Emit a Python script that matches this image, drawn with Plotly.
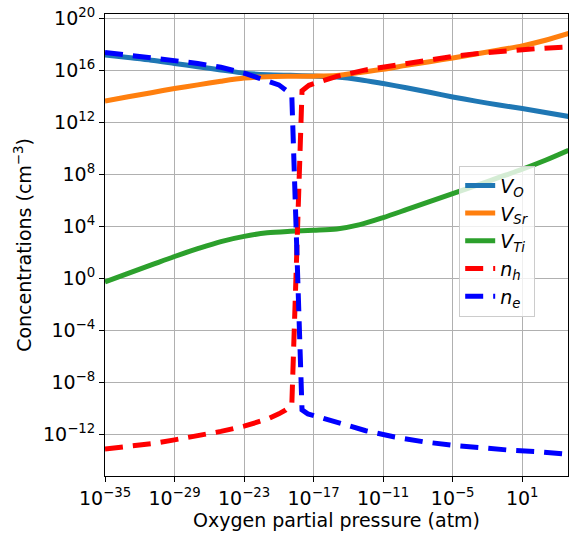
import numpy as np
import plotly.graph_objects as go

# log10 of oxygen partial pressure (atm) for the defect curves
log_p = [-35, -33, -31, -29, -27, -25, -23, -21, -19, -17, -15,
         -13, -11, -9, -7, -5, -3, -1, 1, 3, 5]

# log10 concentrations (cm^-3)
log_vo = [17.2, 17.0, 16.8, 16.55, 16.3, 16.05, 15.8, 15.68, 15.63, 15.58, 15.5,
          15.3, 15.0, 14.68, 14.33, 13.97, 13.65, 13.35, 13.08, 12.78, 12.47]
log_vsr = [13.66, 13.98, 14.3, 14.62, 14.9, 15.18, 15.42, 15.53, 15.56, 15.57, 15.62,
           15.85, 16.1, 16.4, 16.68, 16.97, 17.27, 17.58, 17.9, 18.33, 18.85]
log_vti = [-0.26, 0.4, 1.05, 1.7, 2.3, 2.85, 3.25, 3.52, 3.64, 3.72, 3.82,
           4.15, 4.69, 5.3, 5.92, 6.54, 7.15, 7.78, 8.41, 9.1, 9.87]

# holes
log_p_h = [-35, -33, -31, -29, -27, -25, -23, -21, -20, -19.4, -18.88,
           -18.0, -17.4, -16.4, -15, -12.5, -10, -7.5, -5, -2.5, 0, 2.5, 5]
log_nh = [-13.1, -12.9, -12.7, -12.4, -12.1, -11.75, -11.35, -10.8, -10.4, -10.1, -9.7,
          14.45, 14.87, 15.15, 15.55, 16.05, 16.42, 16.8, 17.08, 17.35, 17.55, 17.7, 17.82]

# electrons
log_p_e = [-35, -33, -31, -29, -27, -25, -23, -21, -20, -19.4, -18.88,
           -18.0, -17.5, -16.5, -14.5, -12.5, -10, -7.5, -5, -2.5, 0, 2.5, 5]
log_ne = [17.4, 17.2, 17.0, 16.8, 16.55, 16.25, 15.8, 15.2, 14.9, 14.5, 14.05,
          -10.1, -10.4, -10.65, -11.15, -11.7, -12.18, -12.55, -12.82, -13.05, -13.2, -13.32, -13.52]

x_tick_exp = [-35, -29, -23, -17, -11, -5, 1]
y_tick_exp = [20, 16, 12, 8, 4, 0, -4, -8, -12]


def pw(v):
    return np.power(10.0, np.array(v, dtype=float))


def exp_label(e):
    return "10<sup>" + str(e).replace("-", "\u2212") + "</sup>"


font = "DejaVu Sans, sans-serif"
fig = go.Figure()

series = [
    (log_p, log_vo, "<i>V</i><sub><i>O</i></sub>", "#1f77b4", "solid"),
    (log_p, log_vsr, "<i>V</i><sub><i>Sr</i></sub>", "#ff7f0e", "solid"),
    (log_p, log_vti, "<i>V</i><sub><i>Ti</i></sub>", "#2ca02c", "solid"),
    (log_p_h, log_nh, "<i>n</i><sub><i>h</i></sub>", "red", "18px,10px"),
    (log_p_e, log_ne, "<i>n</i><sub><i>e</i></sub>", "blue", "18px,10px"),
]
for xs, ys, name, color, dash in series:
    fig.add_trace(go.Scatter(
        x=pw(xs), y=pw(ys), mode="lines", name=name,
        line=dict(color=color, width=5, dash=dash,
                  shape="spline" if dash == "solid" else "linear", smoothing=0.8),
    ))

axis_common = dict(
    type="log", showline=True, linecolor="black", linewidth=1, mirror=True,
    ticks="outside", ticklen=5, tickcolor="black", automargin=False,
    ticklabeloverflow="allow",
    showgrid=True, gridcolor="#b0b0b0", gridwidth=1, zeroline=False,
    tickfont=dict(family=font, size=19, color="black"),
)

fig.update_layout(
    width=578, height=541, autosize=False,
    margin=dict(l=105, r=10, t=14, b=65),
    paper_bgcolor="white", plot_bgcolor="white",
    font=dict(family=font, size=19, color="black"),
    xaxis=dict(axis_common, range=[-35, 4.95],
               tickvals=pw(x_tick_exp).tolist(),
               ticktext=[exp_label(e) for e in x_tick_exp],
               title=dict(text="Oxygen partial pressure (atm)",
                          font=dict(family=font, size=19), standoff=4)),
    yaxis=dict(axis_common, range=[-15.18, 20.35],
               tickvals=pw(y_tick_exp).tolist(),
               ticktext=[exp_label(e) for e in y_tick_exp],
               title=dict(text="Concentrations (cm<sup>\u22123</sup>)",
                          font=dict(family=font, size=19), standoff=6)),
    legend=dict(x=0.765, y=0.672, xanchor="left", yanchor="top",
                bgcolor="rgba(255,255,255,0.8)", bordercolor="#cccccc", borderwidth=1,
                font=dict(family=font, size=19)),
    showlegend=True,
)

# drop the page's default body margin so the 578x541 figure fills the window
fig.write_html("out.html", config={"displayModeBar": False},
               post_script="document.body.style.margin = '0px';")
